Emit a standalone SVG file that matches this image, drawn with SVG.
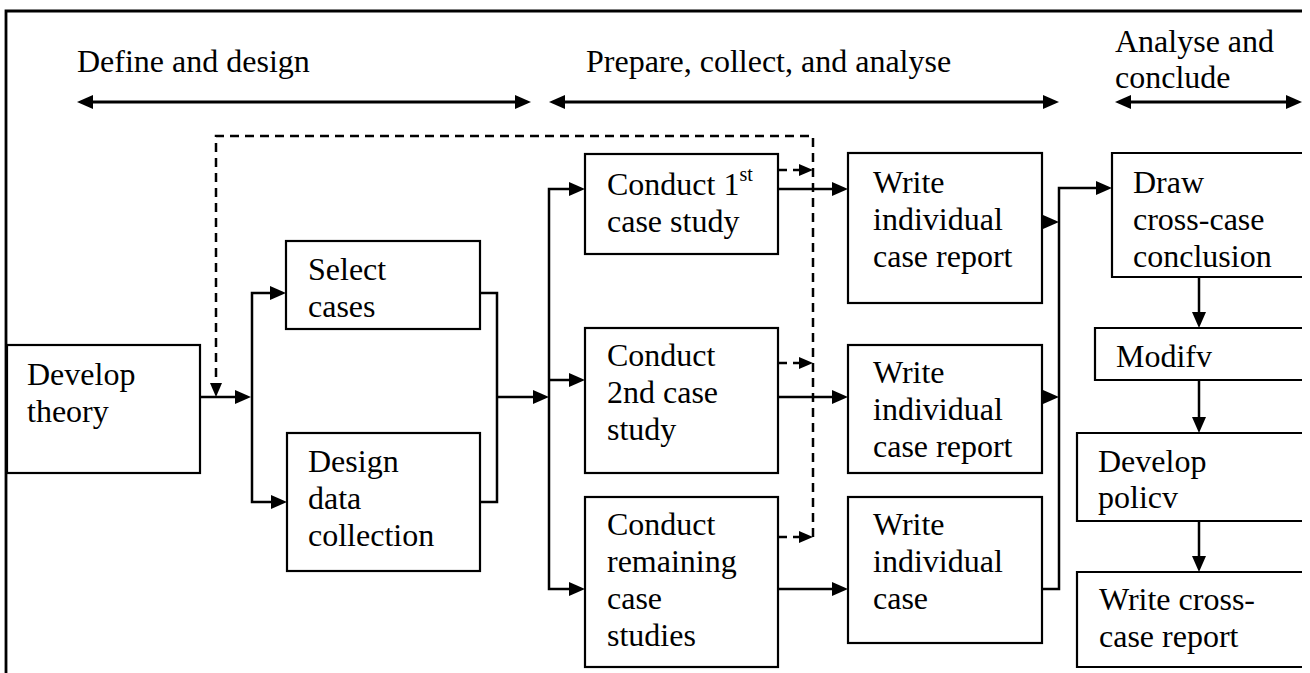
<svg xmlns="http://www.w3.org/2000/svg" width="1310" height="673" viewBox="0 0 1310 673">
  <style>
    text { font-family: "Liberation Serif", Tinos, "Times New Roman", Times, "Nimbus Roman", "DejaVu Serif", serif; font-size: 32px; fill: #000; }
    .box { fill: #fff; stroke: #000; stroke-width: 2.2; }
    .open { fill: #fff; stroke: #000; stroke-width: 2.2; }
    .wire { fill: none; stroke: #000; stroke-width: 2.5; }
    .dash { fill: none; stroke: #000; stroke-width: 2.5; stroke-dasharray: 9 6; }
    .phase { fill: none; stroke: #000; stroke-width: 3; }
  </style>
  <defs>
    <marker id="ah" markerUnits="userSpaceOnUse" markerWidth="17" markerHeight="15" refX="6" refY="7" orient="auto-start-reverse" overflow="visible">
      <path d="M0,0 L16,7 L0,14 z" fill="#000"/>
    </marker>
    <marker id="ahs" markerUnits="userSpaceOnUse" markerWidth="15" markerHeight="13" refX="4" refY="6" orient="auto" overflow="visible">
      <path d="M0,0 L14,6 L0,12 z" fill="#000"/>
    </marker>
  </defs>

  <rect width="1310" height="673" fill="#fff"/>

  <!-- frame -->
  <g id="frame">
    <path d="M6,673 V11 H1302" fill="none" stroke="#000" stroke-width="2.8"/>
  </g>

  <!-- phase headings -->
  <g id="phase-define">
    <text x="77" y="72">Define and design</text>
    <path class="phase" d="M87,102 H521" marker-start="url(#ah)" marker-end="url(#ah)"/>
  </g>
  <g id="phase-prepare">
    <text x="586" y="72">Prepare, collect, and analyse</text>
    <path class="phase" d="M559,102 H1049" marker-start="url(#ah)" marker-end="url(#ah)"/>
  </g>
  <g id="phase-analyse">
    <text x="1115" y="52">Analyse and</text>
    <text x="1115" y="88">conclude</text>
    <path class="phase" d="M1125,102 H1292" marker-start="url(#ah)" marker-end="url(#ah)"/>
  </g>

  <!-- connectors -->
  <g id="connectors">
    <path class="wire" d="M200,397 H241" marker-end="url(#ah)"/>
    <path class="wire" d="M276,293 H252 V502 H277" marker-start="url(#ah)" marker-end="url(#ah)"/>
    <path class="wire" d="M480,293 H497 V502 H480"/>
    <path class="wire" d="M497,397 H539" marker-end="url(#ah)"/>
    <path class="wire" d="M575,189 H549 V589 H575" marker-start="url(#ah)" marker-end="url(#ah)"/>
    <path class="wire" d="M549,380 H575" marker-end="url(#ah)"/>
    <path class="wire" d="M778,189 H838" marker-end="url(#ah)"/>
    <path class="wire" d="M778,397 H838" marker-end="url(#ah)"/>
    <path class="wire" d="M778,589 H838" marker-end="url(#ah)"/>
    <path class="wire" d="M1042,222 H1049" marker-end="url(#ah)"/>
    <path class="wire" d="M1042,397 H1049" marker-end="url(#ah)"/>
    <path class="wire" d="M1042,589 H1059 V188 H1102" marker-end="url(#ah)"/>
    <path class="wire" d="M1199,277 V318" marker-end="url(#ah)"/>
    <path class="wire" d="M1199,380 V423" marker-end="url(#ah)"/>
    <path class="wire" d="M1199,521 V562" marker-end="url(#ah)"/>
    <!-- feedback loop back to theory -->
    <path class="dash" d="M778,170 H803" marker-end="url(#ahs)"/>
    <path class="dash" d="M778,363 H803" marker-end="url(#ahs)"/>
    <path class="dash" d="M778,537 H803" marker-end="url(#ahs)"/>
    <path class="dash" d="M813,537 V136 H216 V387" marker-end="url(#ahs)"/>
  </g>

  <!-- nodes -->
  <g id="develop-theory">
    <rect class="box" x="7" y="345" width="193" height="128"/>
    <text x="27" y="385">Develop</text>
    <text x="27" y="422">theory</text>
  </g>
  <g id="select-cases">
    <rect class="box" x="286" y="241" width="194" height="88"/>
    <text x="308" y="280">Select</text>
    <text x="308" y="317">cases</text>
  </g>
  <g id="design-data-collection">
    <rect class="box" x="287" y="433" width="193" height="138"/>
    <text x="308" y="472">Design</text>
    <text x="308" y="509">data</text>
    <text x="308" y="546">collection</text>
  </g>
  <g id="conduct-first">
    <rect class="box" x="585" y="154" width="193" height="100"/>
    <text x="607" y="195">Conduct 1<tspan dy="-14" font-size="20">st</tspan></text>
    <text x="607" y="232">case study</text>
  </g>
  <g id="conduct-second">
    <rect class="box" x="585" y="328" width="193" height="145"/>
    <text x="607" y="366">Conduct</text>
    <text x="607" y="403">2nd case</text>
    <text x="607" y="440">study</text>
  </g>
  <g id="conduct-remaining">
    <rect class="box" x="585" y="497" width="193" height="170"/>
    <text x="607" y="535">Conduct</text>
    <text x="607" y="572">remaining</text>
    <text x="607" y="609">case</text>
    <text x="607" y="646">studies</text>
  </g>
  <g id="write-report-1">
    <rect class="box" x="848" y="153" width="194" height="150"/>
    <text x="873" y="193">Write</text>
    <text x="873" y="230">individual</text>
    <text x="873" y="267">case report</text>
  </g>
  <g id="write-report-2">
    <rect class="box" x="848" y="345" width="194" height="128"/>
    <text x="873" y="383">Write</text>
    <text x="873" y="420">individual</text>
    <text x="873" y="457">case report</text>
  </g>
  <g id="write-report-3">
    <rect class="box" x="848" y="497" width="194" height="146"/>
    <text x="873" y="535">Write</text>
    <text x="873" y="572">individual</text>
    <text x="873" y="609">case</text>
  </g>
  <g id="draw-conclusion">
    <path class="open" d="M1302,153 H1112 V277 H1302"/>
    <text x="1133" y="193">Draw</text>
    <text x="1133" y="230">cross-case</text>
    <text x="1133" y="267">conclusion</text>
  </g>
  <g id="modify">
    <path class="open" d="M1302,328 H1095 V380 H1302"/>
    <text x="1116" y="367">Modifv</text>
  </g>
  <g id="develop-policy">
    <path class="open" d="M1302,433 H1077 V521 H1302"/>
    <text x="1098" y="472">Develop</text>
    <text x="1098" y="508">policv</text>
  </g>
  <g id="write-cross-case">
    <path class="open" d="M1302,572 H1077 V667 H1302"/>
    <text x="1099" y="610">Write cross-</text>
    <text x="1099" y="647">case report</text>
  </g>
</svg>
